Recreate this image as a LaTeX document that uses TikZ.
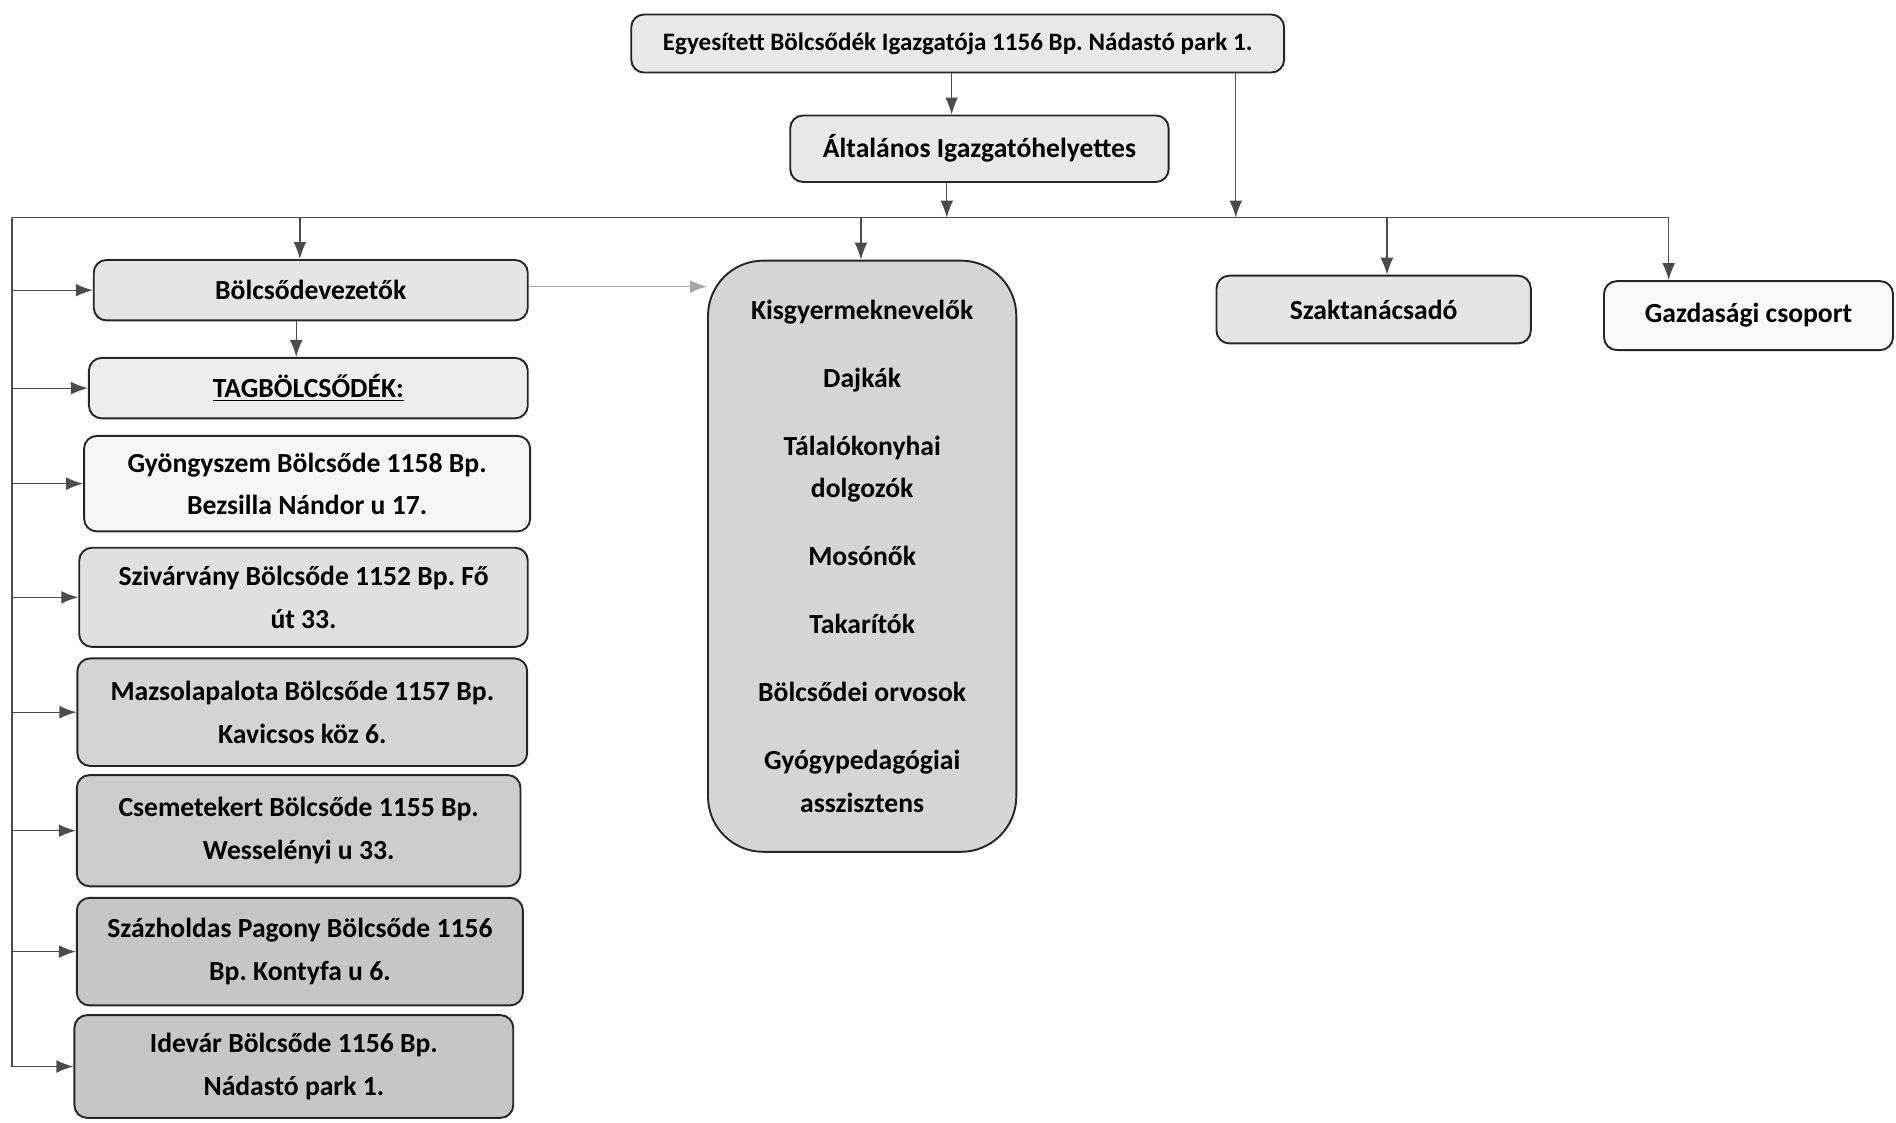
\documentclass[tikz,border=0pt]{standalone}
\usepackage{fontspec}
\setmainfont{Carlito}
\usetikzlibrary{arrows.meta}
\frenchspacing

\begin{document}
\begin{tikzpicture}[
    x=0.02cm, y=-0.02cm,
    unit/.style={draw=black!85, line width=0.9pt, rounded corners=6pt, inner sep=2pt,
      align=center, font=\fontsize{13}{20}\selectfont\bfseries},
    bigunit/.style={unit, rounded corners=26pt},
    link/.style={draw=black!70, line width=0.6pt},
    arr/.style={link, -{Latex[length=8pt,width=6pt]}}
    ]
  \useasboundingbox (0,0) rectangle (1568,928);

  % felső szint
  \node [unit, fill=gray!18, minimum width=10.8cm, minimum height=0.96cm,
    font=\fontsize{11.8}{14}\selectfont\bfseries] (top) at (792,36)
    {Egyesített Bölcsődék Igazgatója 1156 Bp. Nádastó park 1.};
  \node [unit, fill=gray!18, minimum width=6.26cm, minimum height=1.1cm] (alt) at (810,123)
    {Általános Igazgatóhelyettes};

  % bal oldali oszlop
  \node [unit, fill=gray!20, minimum width=7.18cm, minimum height=1cm] (vez) at (257,240)
    {Bölcsődevezetők};
  \node [unit, fill=gray!14, minimum width=7.26cm, minimum height=1cm] (tag) at (255,321)
    {\underline{TAGBÖLCSŐDÉK:}};
  \node [unit, fill=gray!7, minimum width=7.38cm, minimum height=1.58cm] (gyo) at (254,400)
    {Gyöngyszem Bölcsőde 1158 Bp.\\ Bezsilla Nándor u 17.};
  \node [unit, fill=gray!24, minimum width=7.42cm, minimum height=1.64cm] (sziv) at (251,494)
    {Szivárvány Bölcsőde 1152 Bp. Fő\\ út 33.};
  \node [unit, fill=gray!34, minimum width=7.44cm, minimum height=1.78cm] (mazs) at (250,589)
    {Mazsolapalota Bölcsőde 1157 Bp.\\ Kavicsos köz 6.};
  \node [unit, fill=gray!40, minimum width=7.34cm, minimum height=1.84cm] (csem) at (247,687)
    {Csemetekert Bölcsőde 1155 Bp.\\ Wesselényi u 33.};
  \node [unit, fill=gray!45, minimum width=7.38cm, minimum height=1.78cm] (szaz) at (248,787)
    {Százholdas Pagony Bölcsőde 1156\\ Bp. Kontyfa u 6.};
  \node [unit, fill=gray!45, minimum width=7.26cm, minimum height=1.7cm] (ide) at (243,882)
    {Idevár Bölcsőde 1156 Bp.\\ Nádastó park 1.};

  % középső doboz
  \node [bigunit, fill=gray!33, minimum width=5.1cm, minimum height=9.78cm] (kis) at (713,460)
    {Kisgyermeknevelők\\[12pt] Dajkák\\[12pt] Tálalókonyhai\\ dolgozók\\[12pt] Mosónők\\[12pt]
     Takarítók\\[12pt] Bölcsődei orvosok\\[12pt] Gyógypedagógiai\\ asszisztens};

  % jobb oldal
  \node [unit, fill=gray!20, minimum width=5.2cm, minimum height=1.12cm] (szak) at (1136,256)
    {Szaktanácsadó};
  \node [unit, fill=gray!5, minimum width=4.78cm, minimum height=1.14cm] (gaz) at (1446,261)
    {Gazdasági csoport};

  % gyűjtővonal
  \coordinate (busw) at (10,180);
  \coordinate (buse) at (1380,180);
  \draw [link] (busw) -- (buse);
  \draw [link] (busw) -- (busw |- ide.west);

  \draw [arr] (top.south -| 787,0) -- (alt.north -| 787,0);
  \draw [arr] (alt.south -| 783,0) -- (busw -| 783,0);
  \draw [arr] (top.south -| 1022,0) -- (busw -| 1022,0);

  \draw [arr] (busw -| 248,0) -- (vez.north -| 248,0);
  \draw [arr] (busw -| 712,0) -- (kis.north -| 712,0);
  \draw [arr] (busw -| 1147,0) -- (szak.north -| 1147,0);
  \draw [arr] (buse) -- (gaz.north -| buse);

  \draw [arr] (vez.south -| 245,0) -- (tag.north -| 245,0);
  \draw [arr, draw=black!35] (vez.east |- 0,237) -- (kis.west |- 0,237);

  \foreach \n in {vez,tag,gyo,sziv,mazs,csem,szaz,ide}
    \draw [arr] (busw |- \n.west) -- (\n.west);
\end{tikzpicture}
\end{document}
